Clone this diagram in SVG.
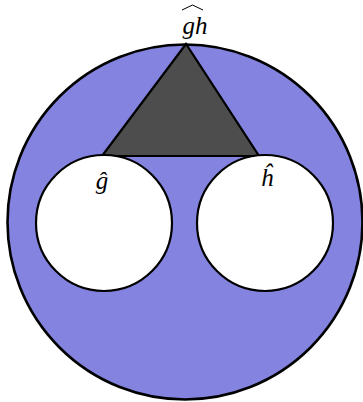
<svg xmlns="http://www.w3.org/2000/svg" width="363" height="402" viewBox="0 0 363 402">
<style>
.lbl{font-family:"Liberation Serif",serif;font-style:italic;font-size:25px;fill:#000;text-anchor:middle}
.hole{fill:#fff;stroke:#000;stroke-width:2.2}
</style>
<rect width="363" height="402" fill="#fff"/>
<g id="outer">
<circle cx="185" cy="222" r="177.5" fill="#8484e0" stroke="#000" stroke-width="2.6"/>
</g>
<g id="triangle">
<polygon points="186,44 102,156 259,156" fill="#4d4d4d" stroke="#000" stroke-width="2.2" stroke-linejoin="miter"/>
</g>
<g id="g-node">
<circle class="hole" cx="104" cy="223" r="68"/>
<text class="lbl" x="102" y="189">ĝ</text>
</g>
<g id="h-node">
<circle class="hole" cx="265" cy="223" r="68"/>
<text class="lbl" x="267" y="186">ĥ</text>
</g>
<g id="gh-label">
<path d="M182,10 L192.5,5 L203,10" fill="none" stroke="#000" stroke-width="1"/>
<text class="lbl" x="195" y="34">gh</text>
</g>
</svg>
